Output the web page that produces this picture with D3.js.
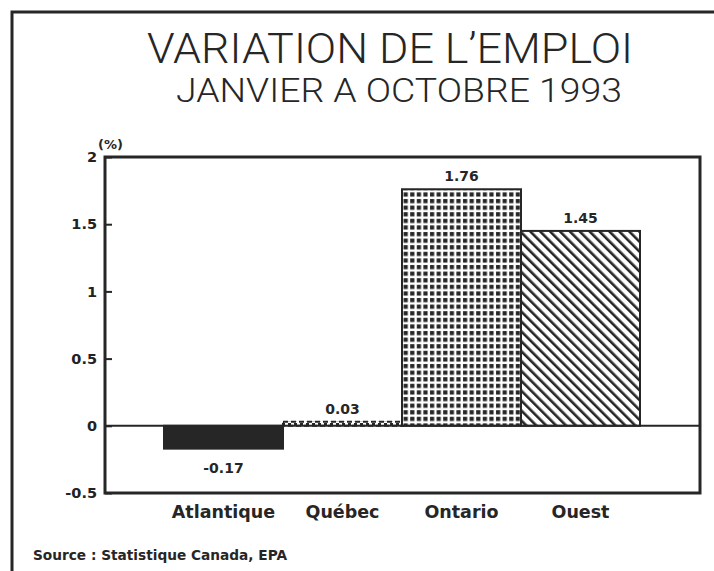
<!DOCTYPE html>
<html>
<head>
<meta charset="utf-8">
<script src="https://d3js.org/d3.v7.min.js"></script>
<style>
  body { margin: 0; background: #fff; }
  svg { display: block; }
  .tick text { font-family: "DejaVu Sans", sans-serif; font-weight: bold; font-size: 14.5px; fill: #222; }
</style>
</head>
<body>
<div id="chart"></div>
<script>
// values
var regions = ["Atlantique", "Québec", "Ontario", "Ouest"];
var variation = [-0.17, 0.03, 1.76, 1.45];
var labels = ["-0.17", "0.03", "1.76", "1.45"];
var yTicks = [-0.5, 0, 0.5, 1, 1.5, 2];
var fills = ["solid", "dots", "grid", "hatch"];

var W = 714, H = 571, ink = "#262626";
var plot = {left: 105, right: 700, top: 157, bottom: 493};

var svg = d3.select("#chart").append("svg")
  .attr("width", W).attr("height", H);

// patterns
var defs = svg.append("defs");
var pd = defs.append("pattern").attr("id", "dots")
  .attr("patternUnits", "userSpaceOnUse").attr("width", 6).attr("height", 3);
pd.append("rect").attr("width", 6).attr("height", 3).attr("fill", "#fff");
pd.append("rect").attr("width", 3).attr("height", 2).attr("fill", ink);

var pg = defs.append("pattern").attr("id", "grid")
  .attr("patternUnits", "userSpaceOnUse").attr("width", 6.6).attr("height", 6.6);
pg.append("rect").attr("width", 6.6).attr("height", 6.6).attr("fill", "#fff");
pg.append("rect").attr("x", 1).attr("y", 1).attr("width", 4.2).attr("height", 4.2).attr("fill", ink);

var ph = defs.append("pattern").attr("id", "hatch")
  .attr("patternUnits", "userSpaceOnUse").attr("width", 7).attr("height", 7)
  .attr("patternTransform", "rotate(-45)");
ph.append("rect").attr("width", 7).attr("height", 7).attr("fill", "#fff");
ph.append("rect").attr("x", 0).attr("width", 2.6).attr("height", 7).attr("fill", ink);

// outer frame (top and left edges)
svg.append("path")
  .attr("d", "M12," + H + "V12H" + W)
  .attr("fill", "none").attr("stroke", ink).attr("stroke-width", 3);

// titles
svg.append("text")
  .attr("x", 390).attr("y", 63)
  .attr("text-anchor", "middle")
  .attr("textLength", 486).attr("lengthAdjust", "spacingAndGlyphs")
  .style("font-family", "Roboto, 'Liberation Sans', sans-serif")
  .style("font-weight", 300).style("font-size", "42px").style("fill", ink)
  .text("VARIATION DE L’EMPLOI");

svg.append("text")
  .attr("x", 399).attr("y", 102)
  .attr("text-anchor", "middle")
  .attr("textLength", 446).attr("lengthAdjust", "spacingAndGlyphs")
  .style("font-family", "Roboto, 'Liberation Sans', sans-serif")
  .style("font-weight", 300).style("font-size", "33px").style("fill", ink)
  .text("JANVIER A OCTOBRE 1993");

var x = d3.scaleBand().domain(regions).range([164, 640]).padding(0);
var y = d3.scaleLinear().domain([-0.5, 2]).range([plot.bottom, plot.top]);

// y axis ticks (inward)
var ax = svg.append("g")
  .attr("transform", "translate(" + plot.left + ",0)")
  .call(d3.axisLeft(y).tickValues(yTicks).tickSize(-7).tickPadding(8)
    .tickFormat(function(d) { return String(d); }));
ax.select(".domain").remove();
ax.selectAll(".tick line").attr("stroke", ink).attr("stroke-width", 2);

svg.append("text")
  .attr("x", 98).attr("y", 149)
  .style("font-family", "DejaVu Sans, sans-serif").style("font-weight", "bold")
  .style("font-size", "13px").style("fill", ink)
  .text("(%)");

// bars
var bars = regions.map(function(r, i) {
  return {region: r, value: variation[i], label: labels[i], fill: fills[i]};
});

svg.selectAll("rect.bar").data(bars).enter().append("rect")
  .attr("class", "bar")
  .attr("x", function(d) { return x(d.region); })
  .attr("width", x.bandwidth())
  .attr("y", function(d) { return y(Math.max(0, d.value)); })
  .attr("height", function(d) { return Math.abs(y(d.value) - y(0)); })
  .attr("fill", function(d) { return d.fill == "solid" ? ink : "url(#" + d.fill + ")"; })
  .attr("stroke", ink)
  .attr("stroke-width", 2)
  .attr("stroke-dasharray", function(d) { return d.fill == "dots" ? "5,3" : null; });

// zero line
svg.append("line")
  .attr("x1", plot.left).attr("x2", plot.right)
  .attr("y1", y(0)).attr("y2", y(0))
  .attr("stroke", ink).attr("stroke-width", 2);

// plot frame
svg.append("rect")
  .attr("x", plot.left).attr("y", plot.top)
  .attr("width", plot.right - plot.left).attr("height", plot.bottom - plot.top)
  .attr("fill", "none").attr("stroke", ink).attr("stroke-width", 3);

// value labels
svg.selectAll("text.val").data(bars).enter().append("text")
  .attr("class", "val")
  .attr("x", function(d) { return x(d.region) + x.bandwidth() / 2; })
  .attr("y", function(d) { return d.value < 0 ? y(d.value) + 24 : y(d.value) - 8; })
  .attr("text-anchor", "middle")
  .style("font-family", "DejaVu Sans, sans-serif").style("font-weight", "bold")
  .style("font-size", "14px").style("fill", ink)
  .text(function(d) { return d.label; });

// category labels
svg.selectAll("text.cat").data(regions).enter().append("text")
  .attr("class", "cat")
  .attr("x", function(d) { return x(d) + x.bandwidth() / 2; })
  .attr("y", 518)
  .attr("text-anchor", "middle")
  .style("font-family", "DejaVu Sans, sans-serif").style("font-weight", "bold")
  .style("font-size", "17.5px").style("fill", ink)
  .text(function(d) { return d; });

svg.append("text")
  .attr("x", 33).attr("y", 560)
  .attr("textLength", 254).attr("lengthAdjust", "spacingAndGlyphs")
  .style("font-family", "DejaVu Sans, sans-serif").style("font-weight", "bold")
  .style("font-size", "14px").style("fill", ink)
  .text("Source : Statistique Canada, EPA");
</script>
</body>
</html>
